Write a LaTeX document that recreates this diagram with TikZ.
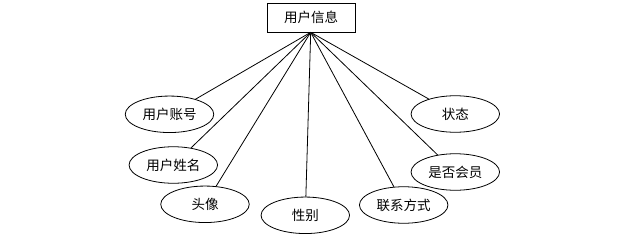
\documentclass[tikz,border=0pt]{standalone}
\usepackage{fontspec}
\setmainfont{Noto Sans CJK SC}
\usetikzlibrary{shapes.geometric}
\begin{document}
\begin{tikzpicture}[x=1pt,y=-1pt,
  ent/.style={draw,line width=0.8pt,minimum width=88pt,minimum height=29pt,inner sep=0pt,font=\fontsize{13.5}{15}\selectfont},
  attr/.style={draw,ellipse,line width=0.8pt,minimum width=88.5pt,minimum height=36.5pt,inner sep=0pt,font=\fontsize{13.5}{15}\selectfont},
  link/.style={line width=0.8pt}]
\useasboundingbox (0,0) rectangle (628,244);
\node[ent] (e) at (311,17.8) {用户信息};
\coordinate (o) at (310.7,32.3);
\node[attr] (a1) at (169.5,114.3) {用户账号};
\node[attr] (a2) at (173.3,165) {用户姓名};
\node[attr] (a3) at (205,204.3) {头像};
\node[attr] (a4) at (305.3,215.3) {性别};
\node[attr] (a5) at (403.7,205) {联系方式};
\node[attr] (a6) at (455.3,172) {是否会员};
\node[attr] (a7) at (455.3,114) {状态};
\foreach \i in {1,...,7} \draw[link] (o) -- (a\i);
\end{tikzpicture}
\end{document}
